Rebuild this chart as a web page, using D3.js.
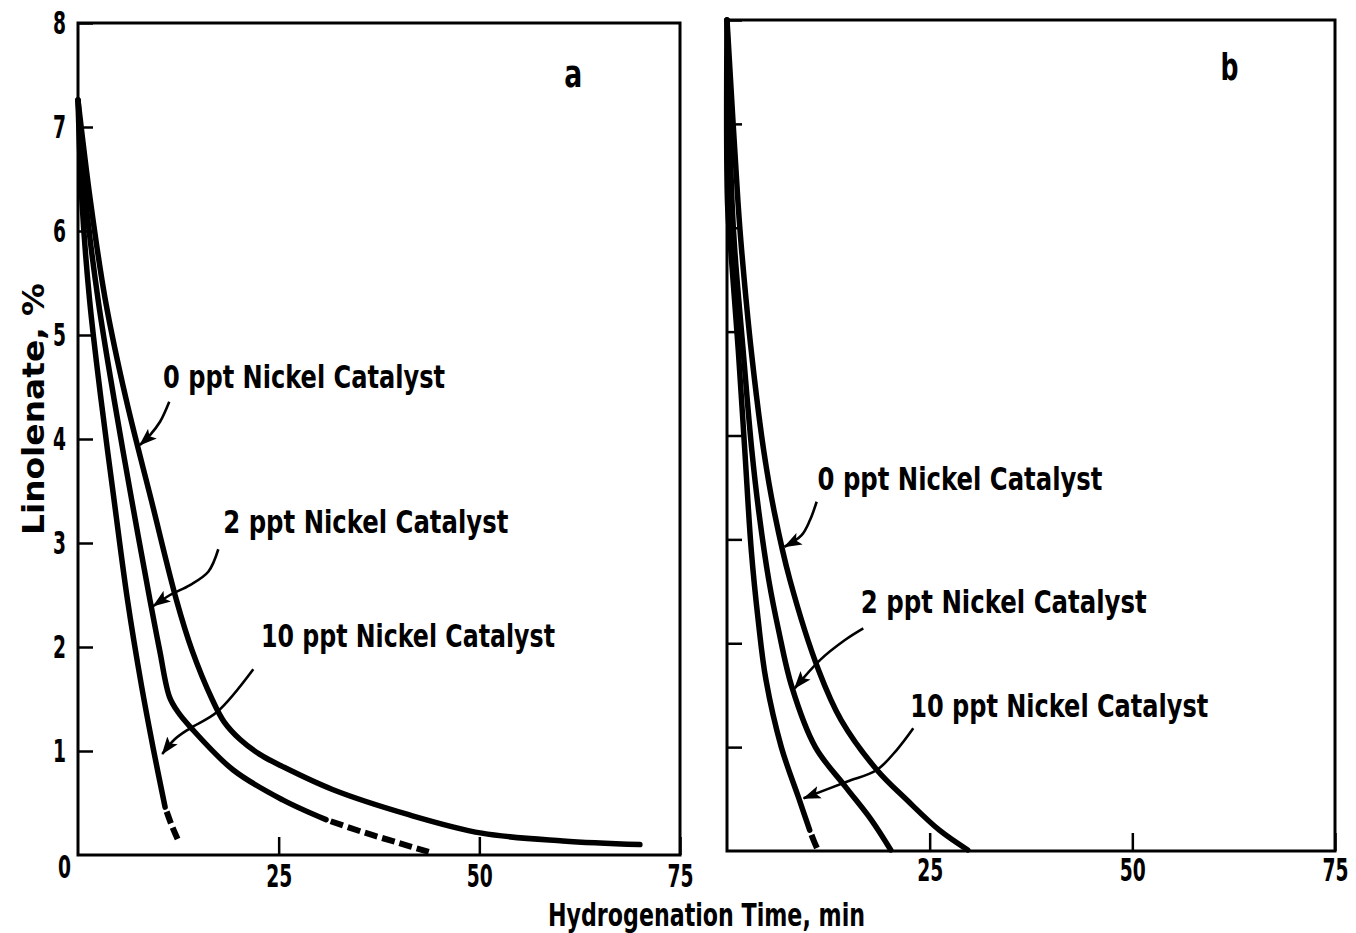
<!DOCTYPE html>
<html><head><meta charset="utf-8">
<script src="https://cdn.jsdelivr.net/npm/d3@7"></script>
<style>
html,body{margin:0;padding:0;background:#fff;}
svg{display:block;}
text{font-family:'Liberation Sans Narrow','Arial Narrow','DejaVu Sans Condensed',sans-serif;font-weight:bold;fill:#000;}
</style></head><body>
<svg id="chart" width="1356" height="933"></svg>
<script>
// ---------- data ----------
const panelNames = ["a", "b"];
const xTickValues = [25, 50, 75];
const yTickValues = [1, 2, 3, 4, 5, 6, 7, 8];
const seriesNames = ["0 ppt Nickel Catalyst", "2 ppt Nickel Catalyst", "10 ppt Nickel Catalyst"];
const xTitle = "Hydrogenation Time, min";
const yTitle = "Linolenate, %";

// panel a  (time, min ; linolenate, %)
const a0Solid  = [[0,7.26],[1.53,6.3],[3.4,5.34],[6.0,4.38],[9.14,3.41],[12.27,2.45],[14.2,1.97],[16.75,1.49],[18.2,1.28],[20.2,1.11],[22.6,0.97],[25.5,0.85],[31.7,0.63],[41.1,0.39],[50.3,0.21],[60.4,0.135],[70,0.1]];
const a2Solid  = [[0,7.26],[0.96,6.3],[2.5,5.34],[4.5,4.38],[6.7,3.41],[8.97,2.45],[10.17,1.97],[11.4,1.52],[12.5,1.37],[14.0,1.23],[19.3,0.82],[25.5,0.53],[30.9,0.34]];
const a2Dashed = [[30.9,0.34],[35.5,0.22],[40.0,0.115],[43.7,0.03]];
const a10Solid = [[0,7.26],[0.48,6.3],[1.44,5.34],[2.87,4.38],[4.5,3.41],[6.17,2.45],[7.86,1.65],[9.41,1.01],[10.85,0.46]];
const a10Dashed= [[10.85,0.46],[11.7,0.28],[12.6,0.12]];

// panel b
const b0Solid  = [[0,8],[1.37,6.23],[1.82,5.77],[3.0,4.81],[4.54,3.85],[5.87,3.25],[7.76,2.61],[11.3,1.74],[14.08,1.26],[18.5,0.78],[22.2,0.49],[26.2,0.2],[29.7,0.01]];
const b2Solid  = [[0,8],[0.63,6.23],[0.97,5.77],[2.0,4.81],[3.07,3.85],[3.95,3.25],[5.15,2.61],[6.35,2.13],[8.0,1.58],[10.9,1.0],[14.6,0.62],[17.8,0.3],[20.2,0.01]];
const b10Solid = [[0,8],[0.07,6.23],[0.48,5.77],[1.4,4.81],[2.2,3.85],[3.0,2.89],[3.85,2.22],[4.8,1.65],[6.7,1.0],[8.8,0.52],[10.2,0.2]];
const b10Dashed= [[10.2,0.2],[10.7,0.1],[11.2,0.01]];

// annotation anchors (data units): label start / baseline, arrow path
const aLabelAnchors = [[10.6,4.49],[18.1,3.10],[22.8,2.0]];
const bLabelAnchors = [[11.16,3.48],[16.5,2.29],[22.6,1.29]];
const aArrows = [
  [[11.37,4.359],[10.22,4.166],[8.97,4.038],[7.7,3.942]],
  [[17.48,2.94],[16.23,2.724],[13.95,2.596],[11.46,2.5],[9.4,2.394]],
  [[21.84,1.786],[17.32,1.375],[13.95,1.218],[12.08,1.115],[10.5,0.971]]
];
const bArrows = [
  [[11.06,3.362],[10.24,3.186],[9.21,3.041],[7.1,2.929]],
  [[16.81,2.143],[14.55,2.031],[11.47,1.838],[8.35,1.566]],
  [[22.98,1.181],[20.93,0.972],[18.47,0.780],[14.77,0.667],[9.45,0.507]]
];
const panelLetterAnchors = [[61.7,7.385],[62.0,7.42]];

// ---------- drawing ----------
const FONT = "'Liberation Sans Narrow','Arial Narrow','DejaVu Sans Condensed',sans-serif";
const svg = d3.select("#chart");
svg.append("rect").attr("width",1356).attr("height",933).attr("fill","#fff");

const defs = svg.append("defs");
defs.append("marker").attr("id","head")
  .attr("markerUnits","userSpaceOnUse")
  .attr("viewBox","0 0 18 14").attr("markerWidth",18).attr("markerHeight",14)
  .attr("refX",17).attr("refY",7).attr("orient","auto")
  .append("path").attr("d","M0,0.5 L18,7 L0,13.5 L4,7 Z").attr("fill","#000");

const scales = {
  a: {x: d3.scaleLinear().domain([0,75]).range([78,680]),  y: d3.scaleLinear().domain([0,8]).range([855,23])},
  b: {x: d3.scaleLinear().domain([0,75]).range([727,1335]), y: d3.scaleLinear().domain([0,8]).range([851,20])}
};

const panelData = {
  a: {solid:[a0Solid,a2Solid,a10Solid], dashed:[[a2Dashed,"13,5",13],[a10Dashed,"12,5",12]], labels:aLabelAnchors, arrows:aArrows, widths:[282,285,294]},
  b: {solid:[b0Solid,b2Solid,b10Solid], dashed:[[b10Dashed,"14,5",14]], labels:bLabelAnchors, arrows:bArrows, widths:[285,286,298]}
};

// squeeze a short text horizontally to a target width, about its anchor point
function squeeze(node, perChar){
  const t = d3.select(node);
  const s = t.text();
  if (!s) return;
  const natural = node.getComputedTextLength();
  const f = Math.min(1, (s.length*perChar)/natural);
  const x = +t.attr("x") || 0, y = +t.attr("y") || 0;
  t.attr("x",0).attr("y",0).attr("transform",`translate(${x},${y}) scale(${f},1)`);
}
function styleTickText(sel){
  sel.attr("font-size",32).attr("fill","#000")
    .style("font-family",FONT).style("font-weight","bold")
    .each(function(){ squeeze(this, 13); });
}

panelNames.forEach((p, i) => {
  const {x, y} = scales[p];
  const d = panelData[p];
  const g = svg.append("g");

  // frame
  g.append("rect")
    .attr("x", x(0)).attr("y", y(8))
    .attr("width", x(75)-x(0)).attr("height", y(0)-y(8))
    .attr("fill","none").attr("stroke","#000").attr("stroke-width",3);

  // left axis
  const left = d3.axisLeft(y).tickValues(yTickValues)
    .tickSizeInner(-15).tickSizeOuter(0).tickPadding(12)
    .tickFormat(p === "a" ? d3.format("d") : () => "");
  const gl = g.append("g").attr("transform",`translate(${x(0)},0)`).call(left);
  gl.select(".domain").remove();
  gl.selectAll("line").attr("stroke","#000").attr("stroke-width",2.5);
  styleTickText(gl.selectAll("text"));

  // bottom axis
  const bottom = d3.axisBottom(x).tickValues(xTickValues)
    .tickSizeInner(-18).tickSizeOuter(0).tickPadding(p === "a" ? 9 : 7)
    .tickFormat(d3.format("d"));
  const gb = g.append("g").attr("transform",`translate(0,${y(0)})`).call(bottom);
  gb.select(".domain").remove();
  gb.selectAll("line").attr("stroke","#000").attr("stroke-width",2.5);
  styleTickText(gb.selectAll("text"));

  // curves
  const line = d3.line().x(v => x(v[0])).y(v => y(v[1])).curve(d3.curveCatmullRom.alpha(0.5));
  d.solid.forEach(s => {
    g.append("path").attr("d", line(s)).attr("fill","none")
      .attr("stroke","#000").attr("stroke-width",5.5).attr("stroke-linecap","round");
  });
  d.dashed.forEach(([s, dash, off]) => {
    g.append("path").attr("d", line(s)).attr("fill","none")
      .attr("stroke","#000").attr("stroke-width",6)
      .attr("stroke-dasharray",dash).attr("stroke-dashoffset",off);
  });

  // arrows
  d.arrows.forEach(a => {
    g.append("path").attr("d", line(a)).attr("fill","none")
      .attr("stroke","#000").attr("stroke-width",2.6).attr("marker-end","url(#head)");
  });

  // labels
  d.labels.forEach((l, k) => {
    g.append("text").attr("x", x(l[0])).attr("y", y(l[1]))
      .attr("font-size",32)
      .attr("textLength", d.widths[k]).attr("lengthAdjust","spacingAndGlyphs")
      .text(seriesNames[k]);
  });

  // panel letter
  const pl = panelLetterAnchors[i];
  const lt = g.append("text").attr("x", x(pl[0])).attr("y", y(pl[1]))
    .attr("text-anchor","middle").attr("font-size",38).text(p);
  squeeze(lt.node(), 18);
});

// shared origin label
const zl = svg.append("text").attr("x", scales.a.x(0)-7).attr("y", scales.a.y(0)+23)
  .attr("text-anchor","end").attr("font-size",32).text("0");
squeeze(zl.node(), 13);

// axis titles
svg.append("text")
  .attr("x", (scales.a.x(0)+scales.b.x(75))/2).attr("y", 926)
  .attr("text-anchor","middle").attr("font-size",32)
  .attr("textLength",317).attr("lengthAdjust","spacingAndGlyphs")
  .text(xTitle);
svg.append("text")
  .attr("transform","translate(44,409) rotate(-90)")
  .attr("text-anchor","middle").attr("font-size",31)
  .attr("textLength",252).attr("lengthAdjust","spacingAndGlyphs")
  .text(yTitle);
</script></body></html>
